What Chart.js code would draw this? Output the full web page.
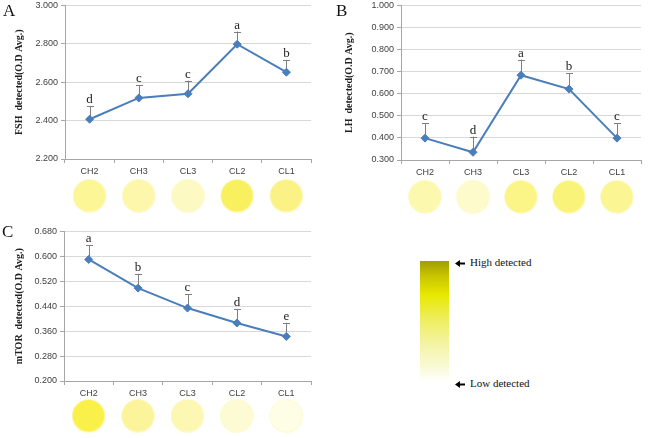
<!DOCTYPE html>
<html lang="en">
<head>
<meta charset="UTF-8">
<title>FSH, LH and mTOR detection</title>
<script src="https://cdn.jsdelivr.net/npm/chart.js"></script>
<style>
  body { margin: 0; background: #fff; }
  #page { position: relative; width: 650px; height: 438px; overflow: hidden; background: #fff; }
  .panel { position: absolute; }
  .tag { position: absolute; font-family: "Liberation Serif", serif; font-size: 17px; color: #111; line-height: 1; }
  #scale { position: absolute; left: 420px; top: 261px; width: 29px; height: 121px;
    background: linear-gradient(to bottom, #a29c00 0%, #c8c400 12%, #e8e800 28%, #eeee60 48%, #f4f4a8 70%, #fafad8 88%, #ffffff 100%); }
  .note { position: absolute; left: 455px; font-family: "Liberation Serif", serif; font-size: 11px; color: #111; white-space: nowrap; }
  .note svg { vertical-align: middle; margin-right: 5px; }
</style>
</head>
<body>
<div id="page">
  <div class="panel" style="left:0;top:-3px;width:320px;height:219px"><canvas id="chartA"></canvas></div>
  <div class="panel" style="left:330px;top:-3px;width:320px;height:220px"><canvas id="chartB"></canvas></div>
  <div class="panel" style="left:0;top:223px;width:320px;height:215px"><canvas id="chartC"></canvas></div>
  <div class="tag" style="left:3px;top:2px">A</div>
  <div class="tag" style="left:336px;top:2px">B</div>
  <div class="tag" style="left:2px;top:223px">C</div>
  <div id="scale"></div>
  <div class="note" style="top:256px"><svg width="10" height="7"><polygon points="0,3.5 5,0 5,2.5 10,2.5 10,4.5 5,4.5 5,7" fill="#000"/></svg>High detected</div>
  <div class="note" style="top:377px"><svg width="10" height="7"><polygon points="0,3.5 5,0 5,2.5 10,2.5 10,4.5 5,4.5 5,7" fill="#000"/></svg>Low detected</div>
</div>
<script>
const categories = ['CH2', 'CH3', 'CL3', 'CL2', 'CL1'];

const fshValues = [2.407, 2.518, 2.540, 2.798, 2.652];
const fshErrors = [0.067, 0.067, 0.068, 0.066, 0.064];
const fshLetters = ['d', 'c', 'c', 'a', 'b'];
const fshTicks = [2.2, 2.4, 2.6, 2.8, 3.0];
const fshWells = ['#fcf696', '#fcf7aa', '#fdf9c2', '#f9f060', '#fbf286'];

const lhValues = [0.399, 0.335, 0.684, 0.621, 0.399];
const lhErrors = [0.067, 0.071, 0.071, 0.071, 0.067];
const lhLetters = ['c', 'd', 'a', 'b', 'c'];
const lhTicks = [0.3, 0.4, 0.5, 0.6, 0.7, 0.8, 0.9, 1.0];
const lhWells = ['#fcf8ae', '#fdfbcc', '#fbf486', '#faf37a', '#fbf594'];

const mtorValues = [0.590, 0.498, 0.434, 0.386, 0.343];
const mtorErrors = [0.045, 0.046, 0.045, 0.044, 0.044];
const mtorLetters = ['a', 'b', 'c', 'd', 'e'];
const mtorTicks = [0.2, 0.28, 0.36, 0.44, 0.52, 0.6, 0.68];
const mtorWells = ['#faf04a', '#fbf49a', '#fcf7b2', '#fdfbd4', '#fefde6'];

const blue = '#4a7ebb';
const axisGrey = '#a6a6a6';

// error bars + significance letters, drawn under the line
const errorBars = {
    id: 'errorBars',
    beforeDatasetsDraw(chart, args, opts) {
        const ctx = chart.ctx;
        const y = chart.scales.y;
        const values = chart.data.datasets[0].data;
        ctx.save();
        chart.getDatasetMeta(0).data.forEach((pt, i) => {
            const top = y.getPixelForValue(values[i] + opts.errors[i]);
            ctx.strokeStyle = '#7f7f7f';
            ctx.lineWidth = 1;
            ctx.beginPath();
            ctx.moveTo(Math.round(pt.x) + 0.5, pt.y);
            ctx.lineTo(Math.round(pt.x) + 0.5, top);
            ctx.moveTo(Math.round(pt.x) - 3, Math.round(top) + 0.5);
            ctx.lineTo(Math.round(pt.x) + 4, Math.round(top) + 0.5);
            ctx.stroke();
            ctx.fillStyle = '#222';
            ctx.font = '13px "Liberation Serif", serif';
            ctx.textAlign = 'center';
            ctx.textBaseline = 'alphabetic';
            ctx.fillText(opts.letters[i], pt.x, top - 3);
        });
        ctx.restore();
    },
    afterDraw(chart, args, opts) {
        // coloured wells under each category label
        const ctx = chart.ctx;
        const x = chart.scales.x;
        const cy = chart.chartArea.bottom + opts.wellOffset;
        ctx.save();
        categories.forEach((c, i) => {
            const cx = x.getPixelForValue(i);
            const g = ctx.createRadialGradient(cx - 3, cy - 3, 2, cx, cy, 17);
            g.addColorStop(0, opts.wells[i]);
            g.addColorStop(0.88, opts.wells[i]);
            g.addColorStop(1, 'rgba(252,248,180,0.5)');
            ctx.fillStyle = g;
            ctx.beginPath();
            ctx.arc(cx, cy, 17, 0, Math.PI * 2);
            ctx.fill();
        });
        ctx.restore();
    }
};

function makeChart(id, values, errors, letters, ticks, wells, title, yWidth, wellOffset) {
    return new Chart(document.getElementById(id), {
        type: 'line',
        data: {
            labels: categories,
            datasets: [{
                data: values,
                borderColor: blue,
                backgroundColor: blue,
                borderWidth: 2,
                pointStyle: 'rectRot',
                pointRadius: 4,
                pointBorderWidth: 1,
                tension: 0
            }]
        },
        options: {
            responsive: true,
            maintainAspectRatio: false,
            animation: false,
            devicePixelRatio: 1,
            layout: { padding: { top: 5, right: 9, left: 0, bottom: 0 } },
            plugins: {
                legend: { display: false },
                tooltip: { enabled: false },
                errorBars: { errors: errors, letters: letters, wells: wells, wellOffset: wellOffset }
            },
            scales: {
                x: {
                    offset: true,
                    afterFit: s => { s.height = 57; },
                    grid: { display: true, drawOnChartArea: false, offset: true, tickLength: 4, tickColor: axisGrey },
                    border: { color: axisGrey },
                    ticks: { color: '#404040', padding: 3, font: { family: '"Liberation Sans", sans-serif', size: 9 }, maxRotation: 0 }
                },
                y: {
                    min: ticks[0],
                    max: ticks[ticks.length - 1],
                    afterFit: s => { s.width = yWidth; },
                    afterBuildTicks: s => { s.ticks = ticks.map(v => ({ value: v })); },
                    grid: { color: '#d9d9d9', tickLength: 4, tickColor: axisGrey },
                    border: { color: axisGrey },
                    ticks: {
                        color: '#404040', padding: 3,
                        font: { family: '"Liberation Sans", sans-serif', size: 9 },
                        callback: v => Number(v).toFixed(3)
                    },
                    title: {
                        display: true,
                        text: title,
                        color: '#222',
                        padding: { top: 13, bottom: 0 },
                        font: { family: '"Liberation Serif", serif', size: 10, weight: 'bold' }
                    }
                }
            }
        },
        plugins: [errorBars]
    });
}

makeChart('chartA', fshValues, fshErrors, fshLetters, fshTicks, fshWells, 'FSH  detected(O.D Avg.)', 65, 37);
makeChart('chartB', lhValues, lhErrors, lhLetters, lhTicks, lhWells, 'LH  detected(O.D Avg.)', 71, 37);
makeChart('chartC', mtorValues, mtorErrors, mtorLetters, mtorTicks, mtorWells, 'mTOR  detected(O.D Avg.)', 64, 35);
</script>
</body>
</html>
